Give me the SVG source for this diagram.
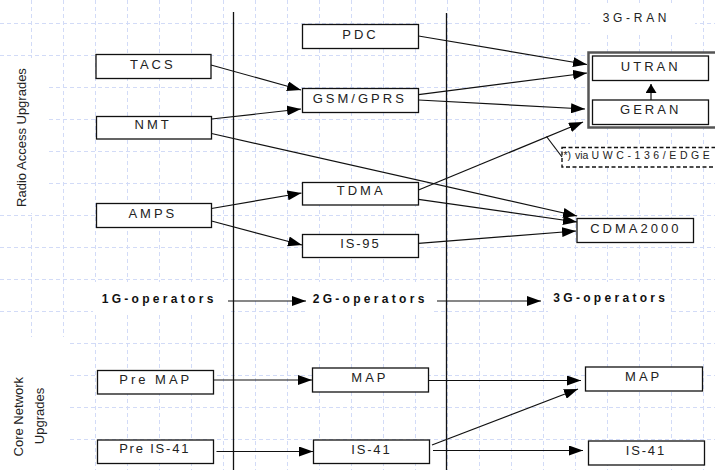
<svg xmlns="http://www.w3.org/2000/svg" width="715" height="470" viewBox="0 0 715 470">
<style>
.grid{stroke:#d2dbf7;stroke-width:1;stroke-dasharray:4 3;fill:none}
.cover{fill:#fff;stroke:none}
.box{fill:#fff;stroke:#111;stroke-width:1.3}
.lbl{font-family:"Liberation Sans",Arial,sans-serif;font-size:13px;fill:#222;letter-spacing:3px;text-anchor:middle}
.num{letter-spacing:1.8px}
.op{font-family:"Liberation Sans",Arial,sans-serif;font-size:12px;font-weight:bold;fill:#111;letter-spacing:3.3px}
.side{font-family:"Liberation Sans",Arial,sans-serif;font-size:13px;fill:#222;text-anchor:middle}
.con{stroke:#111;stroke-width:1.2;fill:none;marker-end:url(#ah)}
.plain{stroke:#111;stroke-width:1.2;fill:none}
.sep{stroke:#111;stroke-width:1.3}
</style>
<defs>
<marker id="ah" markerUnits="userSpaceOnUse" markerWidth="14" markerHeight="10" refX="14" refY="5" orient="auto">
<path d="M0,0 L14,5 L0,10 z" fill="#000"/>
</marker>
<marker id="ahs" markerUnits="userSpaceOnUse" markerWidth="9" markerHeight="11" refX="9" refY="5.5" orient="auto">
<path d="M0,0 L9,5.5 L0,11 z" fill="#000"/>
</marker>
</defs>
<rect width="715" height="470" fill="#fff"/>
<g id="grid">
<path class="grid" d="M31.5,0V470M63.5,0V470M95.5,0V470M127.5,0V470M159.5,0V470M191.5,0V470M223.5,0V470M255.5,0V470M287.5,0V470M319.5,0V470M351.5,0V470M383.5,0V470M415.5,0V470M447.5,0V470M479.5,0V470M511.5,0V470M543.5,0V470M575.5,0V470M607.5,0V470M639.5,0V470M671.5,0V470M703.5,0V470"/>
<path class="grid" d="M0,23.5H715M0,55.5H715M0,87.5H715M0,119.5H715M0,151.5H715M0,183.5H715M0,215.5H715M0,247.5H715M0,279.5H715M0,311.5H715M0,343.5H715M0,375.5H715M0,407.5H715M0,439.5H715"/>
<rect class="cover" x="0" y="58" width="47" height="155"/>
<rect class="cover" x="0" y="337" width="70" height="133"/>
<rect class="cover" x="93" y="282" width="135" height="31"/>
<rect class="cover" x="308" y="282" width="125" height="31"/>
<rect class="cover" x="548" y="282" width="122" height="31"/>
<rect class="cover" x="590" y="3" width="105" height="30"/>
</g>
<g id="separators">
<line class="sep" x1="233.5" y1="12" x2="233.5" y2="470"/>
<line class="sep" x1="446.5" y1="13" x2="446.5" y2="470"/>
</g>
<g id="label-radio">
<text class="side" transform="translate(26,137.5) rotate(-90)">Radio Access Upgrades</text>
</g>
<g id="label-core">
<text class="side" transform="translate(23,416.7) rotate(-90)">Core Network</text>
<text class="side" transform="translate(44,416) rotate(-90)">Upgrades</text>
</g>
<g id="n-3g-ran">
<rect x="588.5" y="52.5" width="135" height="75" fill="#fff" stroke="#555" stroke-width="2.5"/>
<text x="602.7" y="21.7" font-family="Liberation Sans, Arial, sans-serif" font-size="12" fill="#222" letter-spacing="3.7">3G-RAN</text>
</g>
<g id="n-utran"><rect class="box" x="592.5" y="56" width="116" height="24.5"/><text class="lbl" x="650.7" y="71">UTRAN</text></g>
<g id="n-geran"><rect class="box" x="592.5" y="100" width="116" height="24.5"/><text class="lbl" x="650.7" y="114">GERAN</text></g>
<g id="n-tacs"><rect class="box" x="96" y="54.5" width="115" height="24"/><text class="lbl" x="152.8" y="68.7">TACS</text></g>
<g id="n-nmt"><rect class="box" x="96.5" y="116.5" width="115" height="22.5"/><text class="lbl" x="153.2" y="129">NMT</text></g>
<g id="n-amps"><rect class="box" x="96.5" y="203.5" width="115" height="24"/><text class="lbl" x="152.8" y="217.7">AMPS</text></g>
<g id="n-pdc"><rect class="box" x="302.5" y="24.5" width="116" height="24"/><text class="lbl" x="360.5" y="39">PDC</text></g>
<g id="n-gsm"><rect class="box" x="302.5" y="88.5" width="116" height="24"/><text class="lbl" x="359.8" y="102.7">GSM/GPRS</text></g>
<g id="n-tdma"><rect class="box" x="302.5" y="182.5" width="116" height="22.5"/><text class="lbl" x="361.2" y="195">TDMA</text></g>
<g id="n-is95"><rect class="box" x="302.5" y="234.5" width="116" height="23"/><text class="lbl num" x="360.4" y="248.3">IS-95</text></g>
<g id="n-cdma2000"><rect class="box" x="577" y="218.5" width="116.5" height="24"/><text class="lbl" x="635.8" y="232.7">CDMA2000</text></g>
<g id="n-callout">
<rect x="562" y="147.5" width="160" height="19.5" fill="#fff" stroke="#111" stroke-width="1.4" stroke-dasharray="4 2.5"/>
<text y="158.5" font-family="Liberation Sans, Arial, sans-serif" font-size="10.5" fill="#222"><tspan x="563.5">*)</tspan><tspan x="575">via</tspan><tspan x="591.5" letter-spacing="3.6">UWC-136/EDGE</tspan></text>
</g>
<g id="n-1g"><text class="op" x="101.7" y="302.7">1G-operators</text></g>
<g id="n-2g"><text class="op" x="312.7" y="302.7">2G-operators</text></g>
<g id="n-3g"><text class="op" x="553.3" y="301.5">3G-operators</text></g>
<g id="n-premap"><rect class="box" x="97.5" y="370.5" width="116" height="23.5"/><text class="lbl" x="155.8" y="384.3">Pre MAP</text></g>
<g id="n-preis41"><rect class="box" x="97.5" y="440" width="116" height="23.5"/><text class="lbl num" x="154.7" y="453.3">Pre IS-41</text></g>
<g id="n-map2g"><rect class="box" x="312.5" y="368" width="116" height="24"/><text class="lbl" x="369.9" y="382.3">MAP</text></g>
<g id="n-is41-2g"><rect class="box" x="313.5" y="440" width="116" height="23.5"/><text class="lbl num" x="371.4" y="454.3">IS-41</text></g>
<g id="n-map3g"><rect class="box" x="585.5" y="367" width="117" height="24"/><text class="lbl" x="643.7" y="381">MAP</text></g>
<g id="n-is41-3g"><rect class="box" x="588.5" y="441" width="116" height="24"/><text class="lbl num" x="645.9" y="455">IS-41</text></g>
<g id="connectors">
<line class="con" x1="211" y1="65" x2="301" y2="90"/>
<line class="con" x1="211.5" y1="119" x2="301" y2="109"/>
<line class="con" x1="211.5" y1="133.5" x2="577" y2="216"/>
<line class="con" x1="211.5" y1="208.5" x2="301.5" y2="193"/>
<line class="con" x1="211.5" y1="221" x2="302" y2="245"/>
<line class="con" x1="418.5" y1="36" x2="587" y2="64.5"/>
<line class="con" x1="418.5" y1="94.7" x2="587" y2="73"/>
<line class="con" x1="418.5" y1="100" x2="585" y2="109"/>
<line class="con" x1="418.5" y1="190" x2="583" y2="122"/>
<line class="con" x1="418.5" y1="199.3" x2="577" y2="222"/>
<line class="con" x1="418.5" y1="243.3" x2="576" y2="231"/>
<line x1="651" y1="100" x2="651" y2="84" stroke="#111" stroke-width="1.2" marker-end="url(#ahs)"/>
<line class="plain" x1="546.5" y1="136.5" x2="562" y2="157"/>
<line class="con" x1="228" y1="301" x2="306" y2="301"/>
<line class="con" x1="437" y1="301" x2="541" y2="301"/>
<line class="con" x1="214" y1="380" x2="312" y2="380"/>
<line class="con" x1="216.5" y1="451.5" x2="313" y2="451.5"/>
<line class="con" x1="428.5" y1="380.5" x2="581" y2="380.5"/>
<line class="con" x1="432" y1="445" x2="578" y2="389"/>
<line class="con" x1="433" y1="450.5" x2="583" y2="450.5"/>
</g>
</svg>
